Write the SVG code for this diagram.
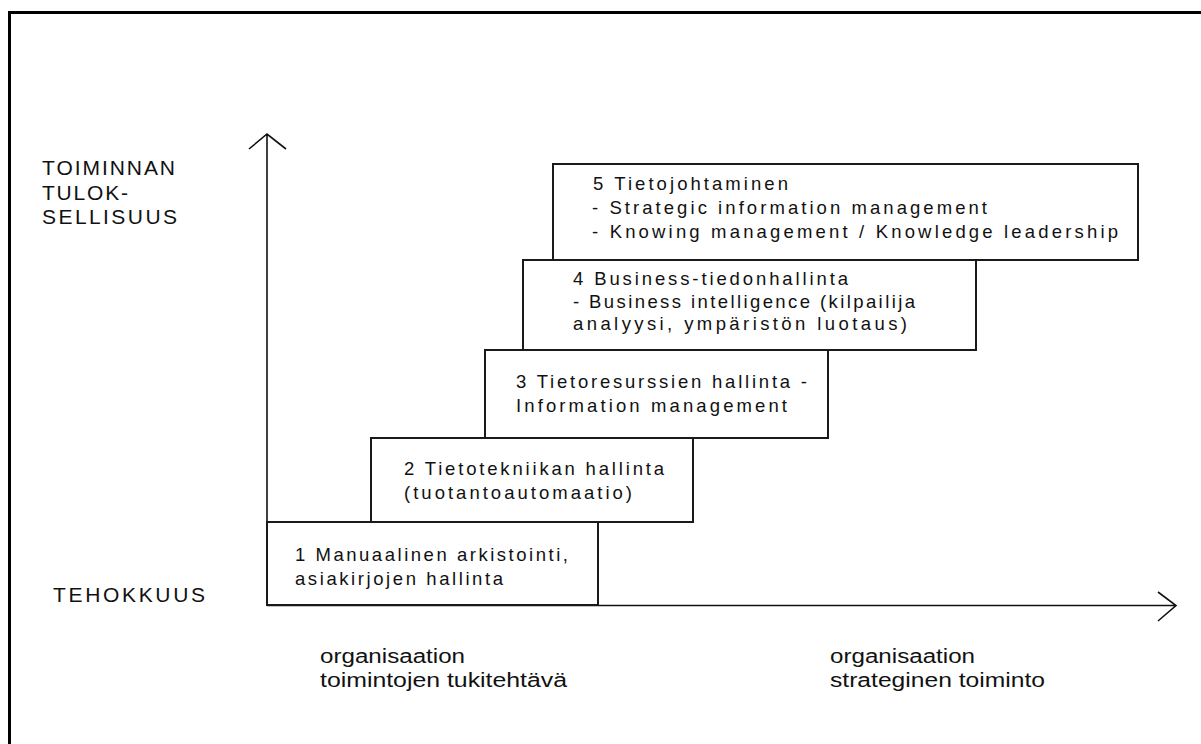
<svg xmlns="http://www.w3.org/2000/svg" width="1201" height="744" viewBox="0 0 1201 744">
<style>
.bx{fill:#fff;stroke:#1a1a1a;stroke-width:2}
.ax{fill:none;stroke:#111;stroke-width:1.6}
.t{font-family:"Liberation Sans",Arial,sans-serif;font-size:18.5px;fill:#111}
.lb{font-family:"Liberation Sans",Arial,sans-serif;font-size:21px;fill:#111}
.bt{font-family:"Liberation Sans",Arial,sans-serif;font-size:20px;fill:#111}
</style>
<rect x="0" y="0" width="1201" height="744" fill="#fff"/>
<rect x="9.5" y="12.5" width="1300" height="800" fill="none" stroke="#000" stroke-width="3"/>
<g id="connectors">
<path class="ax" d="M267,605 V134 M249,149 L267,134 L286,149"/>
<path class="ax" d="M267,605.5 H1176 M1158,592 L1176,605.5 L1158,621"/>
</g>
<g id="axis-labels">
<text class="lb" x="42" y="175" textLength="133" lengthAdjust="spacing">TOIMINNAN</text>
<text class="lb" x="42" y="200" textLength="86" lengthAdjust="spacing">TULOK-</text>
<text class="lb" x="42" y="224" textLength="135" lengthAdjust="spacing">SELLISUUS</text>
<text class="lb" x="53" y="602" textLength="152" lengthAdjust="spacing">TEHOKKUUS</text>
<text class="bt" x="320" y="663" textLength="145" lengthAdjust="spacingAndGlyphs">organisaation</text>
<text class="bt" x="320" y="687" textLength="247" lengthAdjust="spacingAndGlyphs">toimintojen tukitehtävä</text>
<text class="bt" x="830" y="663" textLength="145" lengthAdjust="spacingAndGlyphs">organisaation</text>
<text class="bt" x="830" y="687" textLength="215" lengthAdjust="spacingAndGlyphs">strateginen toiminto</text>
</g>
<g id="node1">
<rect class="bx" x="267" y="522" width="331" height="83"/>
<text class="t" x="295" y="561" textLength="273" lengthAdjust="spacing">1 Manuaalinen arkistointi,</text>
<text class="t" x="295" y="585" textLength="208" lengthAdjust="spacing">asiakirjojen hallinta</text>
</g>
<g id="node2">
<rect class="bx" x="371" y="438" width="322" height="84"/>
<text class="t" x="404" y="475" textLength="260" lengthAdjust="spacing">2 Tietotekniikan hallinta</text>
<text class="t" x="404" y="499" textLength="228" lengthAdjust="spacing">(tuotantoautomaatio)</text>
</g>
<g id="node3">
<rect class="bx" x="485" y="350" width="343" height="88"/>
<text class="t" x="516" y="388" textLength="291" lengthAdjust="spacing">3 Tietoresurssien hallinta -</text>
<text class="t" x="516" y="412" textLength="271" lengthAdjust="spacing">Information management</text>
</g>
<g id="node4">
<rect class="bx" x="523" y="260" width="453" height="90"/>
<text class="t" x="573" y="285" textLength="275" lengthAdjust="spacing">4 Business-tiedonhallinta</text>
<text class="t" x="573" y="308" textLength="342" lengthAdjust="spacing">- Business intelligence (kilpailija</text>
<text class="t" x="573" y="330" textLength="334" lengthAdjust="spacing">analyysi, ympäristön luotaus)</text>
</g>
<g id="node5">
<rect class="bx" x="553" y="164" width="585" height="96"/>
<text class="t" x="593" y="190" textLength="195" lengthAdjust="spacing">5 Tietojohtaminen</text>
<text class="t" x="592" y="214" textLength="395" lengthAdjust="spacing">- Strategic information management</text>
<text class="t" x="592" y="238" textLength="526" lengthAdjust="spacing">- Knowing management / Knowledge leadership</text>
</g>
</svg>
